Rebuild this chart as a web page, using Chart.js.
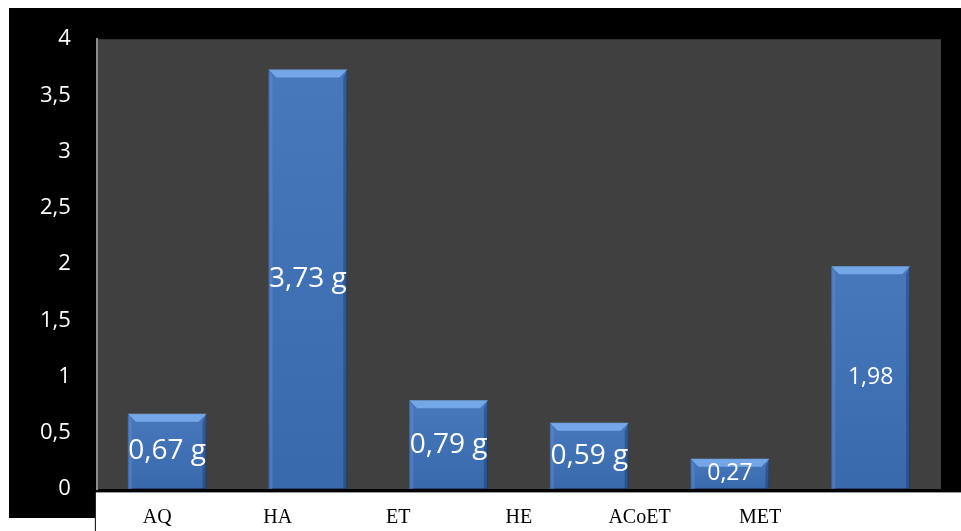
<!DOCTYPE html>
<html>
<head>
<meta charset="utf-8">
<script src="https://cdn.jsdelivr.net/npm/chart.js@4/dist/chart.umd.min.js"></script>
<style>
  html, body { margin: 0; padding: 0; background: #fff; }
  #wrap { width: 961px; height: 531px; position: relative; }
</style>
</head>
<body>
<div id="wrap"><canvas id="yieldChart" width="961" height="531"></canvas></div>
<script>
const categories = ["AQ", "HA", "ET", "HE", "ACoET", "MET"];
const values = [0.67, 3.73, 0.79, 0.59, 0.27, 1.98];
const units = ["g", "g", "g", "g", "", ""];
const yMin = 0;
const yMax = 4;
const yStep = 0.5;

const fmt = v => String(v).replace(".", ",");

// page frame: black panel, dark plot face, white strip under the plot
const framePlugin = {
  id: "frame",
  beforeDraw(chart) {
    const { ctx, chartArea: a, width, height } = chart;
    ctx.save();
    ctx.fillStyle = "#fff";
    ctx.fillRect(0, 0, width, height);
    ctx.fillStyle = "#000";
    ctx.fillRect(9, 8, width - 9, 510);
    ctx.fillStyle = "#404040";
    ctx.fillRect(a.left, a.top, a.right - a.left, a.bottom - a.top);
    ctx.fillStyle = "#fff";
    ctx.fillRect(a.left - 1, a.bottom + 4, width - a.left + 1, height - a.bottom - 4);
    ctx.fillStyle = "#9a9a9a";
    ctx.fillRect(a.left - 1, a.bottom + 3, width - a.left + 1, 1);
    ctx.fillStyle = "#000";
    ctx.fillRect(a.left - 2, 518, 1, height - 518);
    ctx.restore();
  }
};

// bevel facets and value labels on each bar
const barPlugin = {
  id: "barDecor",
  afterDatasetsDraw(chart) {
    const ctx = chart.ctx;
    chart.getDatasetMeta(0).data.forEach((bar, i) => {
      const l = bar.x - bar.width / 2, r = bar.x + bar.width / 2;
      const t = bar.y, b = bar.base;
      const d = Math.min(8, (b - t) / 2);
      ctx.save();
      const face = ctx.createLinearGradient(0, t, 0, b);
      face.addColorStop(0, "rgba(255,255,255,0.06)");
      face.addColorStop(1, "rgba(0,0,0,0.06)");
      ctx.fillStyle = face;
      ctx.fillRect(l, t, r - l, b - t);
      ctx.fillStyle = "rgba(125,175,238,0.85)";
      ctx.beginPath();
      ctx.moveTo(l, t); ctx.lineTo(r, t); ctx.lineTo(r - d, t + d); ctx.lineTo(l + d, t + d);
      ctx.closePath(); ctx.fill();
      ctx.fillStyle = "rgba(95,145,215,0.45)";
      ctx.beginPath();
      ctx.moveTo(l, t); ctx.lineTo(l + d / 2, t + d); ctx.lineTo(l + d / 2, b); ctx.lineTo(l, b);
      ctx.closePath(); ctx.fill();
      ctx.fillStyle = "rgba(20,50,95,0.4)";
      ctx.beginPath();
      ctx.moveTo(r, t); ctx.lineTo(r - d / 2, t + d); ctx.lineTo(r - d / 2, b); ctx.lineTo(r, b);
      ctx.closePath(); ctx.fill();

      const txt = fmt(values[i]) + (units[i] ? " " + units[i] : "");
      ctx.fillStyle = "#fff";
      ctx.font = (units[i] ? 28 : 23) + "px 'Open Sans'";
      ctx.textAlign = "center";
      ctx.textBaseline = "middle";
      ctx.fillText(txt, bar.x, (t + b) / 2);
      ctx.restore();
    });
  }
};

new Chart(document.getElementById("yieldChart"), {
  type: "bar",
  data: {
    labels: categories,
    datasets: [{
      data: values,
      backgroundColor: "#3c70b8",
      borderColor: "#24497c",
      borderWidth: 1,
      borderSkipped: false,
      categoryPercentage: 1,
      barPercentage: 0.56
    }]
  },
  options: {
    responsive: false,
    animation: false,
    layout: { padding: { left: 14, top: 38, right: 20, bottom: 2 } },
    plugins: { legend: { display: false }, tooltip: { enabled: false } },
    scales: {
      x: { display: false },
      xl: {
        type: "category",
        position: "bottom",
        labels: [...categories, ""],
        grid: { display: false, drawTicks: false },
        border: { display: false },
        afterFit: scale => { scale.height = 40; },
        ticks: {
          color: "#000",
          padding: 17,
          maxRotation: 0,
          autoSkip: false,
          font: { family: "'Liberation Serif'", size: 20 }
        }
      },
      y: {
        min: yMin,
        max: yMax,
        grid: { display: false, drawTicks: false },
        border: { color: "#8c8c8c", width: 2 },
        ticks: {
          stepSize: yStep,
          color: "#fff",
          padding: 26,
          font: { family: "'Open Sans'", size: 22 },
          callback: v => fmt(v)
        }
      }
    }
  },
  plugins: [framePlugin, barPlugin]
});
</script>
</body>
</html>
